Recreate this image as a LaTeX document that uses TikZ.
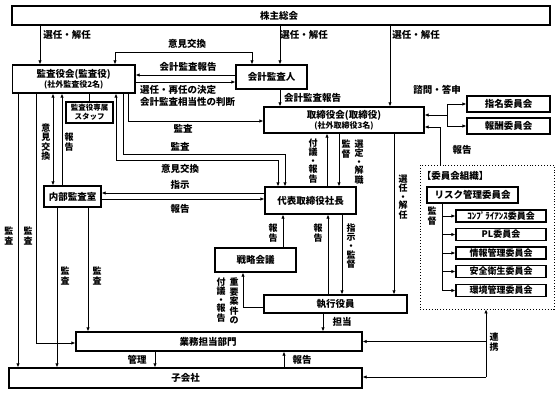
\documentclass[tikz,border=0pt]{standalone}
\usepackage{fontspec}
\setmainfont{Noto Sans CJK JP}
\usetikzlibrary{arrows.meta}
\newcommand{\smf}{\fontsize{8}{9}\selectfont}
\newcommand{\md}{\\[-1pt]・\\[-1pt]}
\tikzset{
 box/.style={draw, line width=1.3pt, inner sep=0pt, align=center, font=\bfseries\fontsize{9.5}{11}\selectfont},
 ln/.style={line width=0.8pt},
 arr/.style={ln, -{Latex[length=4pt,width=3.5pt]}},
 darr/.style={ln, {Latex[length=4pt,width=3.5pt]}-{Latex[length=4pt,width=3.5pt]}},
 lab/.style={inner sep=0pt, font=\bfseries\fontsize{9.5}{11}\selectfont},
 vlab/.style={inner sep=0pt, align=center, font=\bfseries\fontsize{9}{9.6}\selectfont},
 cbox/.style={draw, line width=1.3pt, inner sep=0pt, minimum width=90pt, minimum height=12pt, font=\bfseries\fontsize{9}{10}\selectfont},
}
\begin{document}
\begin{tikzpicture}[x=1pt,y=-1pt]
\useasboundingbox (0,0) rectangle (557,393);
\fill[white] (0,0) rectangle (557,393);
% boxes
\node[box, minimum width=538pt, minimum height=19pt] (kabu) at (281,15.5) {};
\node[lab] (kabut) at (279,15.5) {株主総会};
\node[box, minimum width=122.5pt, minimum height=28pt] (kansa) at (73.75,79) {監査役会(監査役)\\[-1pt]{\smf (社外監査役2名)}};
\node[box, minimum width=47pt, minimum height=21pt, font=\bfseries\fontsize{7.5}{9}\selectfont] (staff) at (89.5,112.5) {監査役専属\\スタッフ};
\node[box, minimum width=71pt, minimum height=24pt] (kaikei) at (271.5,77) {会計監査人};
\node[box, minimum width=160pt, minimum height=26pt] (tori) at (344,120) {取締役会(取締役)\\[-1pt]{\smf (社外取締役3名)}};
\node[box, minimum width=83pt, minimum height=16pt] (shimei) at (508.5,104) {指名委員会};
\node[box, minimum width=83pt, minimum height=16pt] (hoshu) at (508.5,126) {報酬委員会};
\node[box, minimum width=57pt, minimum height=21pt] (naibu) at (72.5,196.5) {内部監査室};
\node[box, minimum width=91pt, minimum height=27pt] (daihyo) at (310.5,200.5) {代表取締役社長};
\node[box, minimum width=81pt, minimum height=24pt] (senryaku) at (255.5,260) {戦略会議};
\node[box, minimum width=143pt, minimum height=18pt] (shikko) at (335.5,304) {執行役員};
\node[box, minimum width=286pt, minimum height=19pt] (gyomu) at (219,341.5) {};
\node[lab] (gyomut) at (208,341.5) {業務担当部門};
\node[box, minimum width=353pt, minimum height=20pt] (kogaisha) at (185.5,378) {子会社};
\node[draw, dotted, line width=0.9pt, minimum width=134pt, minimum height=144pt, inner sep=0pt] (iinkai) at (487,237) {};
\node[lab] (iinkait) at (455,176) {【委員会組織】};
\node[box, minimum width=91pt, minimum height=16pt] (risk) at (472.5,195) {リスク管理委員会};
\node[cbox] (c1) at (501,216) {ｺﾝﾌﾟﾗｲｱﾝｽ委員会};
\node[cbox] (c2) at (501,234.5) {PL委員会};
\node[cbox] (c3) at (501,253) {情報管理委員会};
\node[cbox] (c4) at (501,271.5) {安全衛生委員会};
\node[cbox] (c5) at (501,290.5) {環境管理委員会};

% shareholders
\draw[arr] (kabu.south -| 40,0) -- (kansa.north -| 40,0);
\draw[arr] (kabu.south -| 280,0) -- (kaikei.north -| 280,0);
\draw[arr] (kabu.south -| 390,0) -- (tori.north -| 390,0);
\node[lab] (l1) at (67,35) {選任・解任};
\node[lab] (l2) at (304,35) {選任・解任};
\node[lab] (l3) at (416,35) {選任・解任};

% kansa <-> kaikei
\draw[darr] (kansa.north -| 115,0) -- (115,52) -- (252,52) -- (kaikei.north -| 252,0);
\node[lab] (l4) at (187,44) {意見交換};
\draw[arr] (kaikei.west |- 0,75) -- (kansa.east |- 0,75);
\node[lab] (l5) at (188,67) {会計監査報告};
\draw[arr] (kansa.east |- 0,82) -- (kaikei.west |- 0,82);
\node[lab, anchor=west] (l6) at (140,90) {選任・再任の決定};
\node[lab, anchor=west] (l7) at (140,102) {会計監査相当性の判断};
\draw[arr] (kaikei.south -| 280,0) -- (tori.north -| 280,0);
\node[lab, anchor=west] (l8) at (284,97.5) {会計監査報告};

% kansa -> tori, daihyo
\draw[arr] (kansa.south -| 128,0) -- (128,121) -- (tori.west |- 0,121);
\node[lab] (l9) at (183,128.5) {監査};
\draw[arr] (kansa.south -| 123,0) -- (123,154) -- (285,154) -- (daihyo.north -| 285,0);
\node[lab] (l10) at (180,147) {監査};
\draw[darr] (kansa.south -| 116,0) -- (116,160) -- (278,160) -- (daihyo.north -| 278,0);
\node[lab] (l11) at (180,169) {意見交換};

% daihyo <-> naibu
\draw[arr] (daihyo.west |- 0,193) -- (naibu.east |- 0,193);
\node[lab] (l12) at (180,185) {指示};
\draw[arr] (naibu.east |- 0,199) -- (daihyo.west |- 0,199);
\node[lab] (l13) at (180,209) {報告};

% kansa <-> naibu
\draw[darr] (kansa.south -| 53,0) -- (naibu.north -| 53,0);
\node[vlab] (l14) at (46,142) {意\\見\\交\\換};
\draw[arr] (naibu.north -| 62,0) -- (kansa.south -| 62,0);
\node[vlab] (l15) at (69,142) {報\\告};
\draw[ln] (kansa.south -| 89,0) -- (staff.north -| 89,0);

% audits down
\draw[arr] (kansa.south -| 18,0) -- (kogaisha.north -| 18,0);
\node[vlab] (l16) at (9,236) {監\\査};
\draw[arr] (kansa.south -| 36,0) -- (36,343) -- (gyomu.west |- 0,343);
\node[vlab] (l17) at (28,236) {監\\査};
\draw[arr] (naibu.south -| 57,0) -- (kogaisha.north -| 57,0);
\node[vlab] (l18) at (65,276) {監\\査};
\draw[arr] (naibu.south -| 88,0) -- (gyomu.north -| 88,0);
\node[vlab] (l19) at (97,276) {監\\査};

% gyomu <-> kogaisha
\draw[arr] (gyomu.south -| 155,0) -- (kogaisha.north -| 155,0);
\node[lab] (l20) at (137,360) {管理};
\draw[arr] (kogaisha.north -| 284,0) -- (gyomu.south -| 284,0);
\node[lab] (l21) at (302,360) {報告};
\draw[arr] (shikko.south -| 323,0) -- (gyomu.north -| 323,0);
\node[lab] (l22) at (342,322) {担当};

% tori <-> daihyo
\draw[arr] (daihyo.north -| 327,0) -- (tori.south -| 327,0);
\node[vlab] (l23) at (313,161) {付\\議\md 報\\告};
\draw[arr] (tori.south -| 339,0) -- (daihyo.north -| 339,0);
\node[vlab] (l24) at (346,149) {監\\督};
\node[vlab] (l25) at (359,162) {選\\定\md 解\\職};
\draw[arr] (tori.south -| 394,0) -- (shikko.north -| 394,0);
\node[vlab] (l26) at (403,197) {選\\任\md 解\\任};

% daihyo <-> shikko, senryaku
\draw[arr] (senryaku.north -| 283,0) -- (daihyo.south -| 283,0);
\node[vlab] (l27) at (273,233) {報\\告};
\draw[arr] (shikko.west |- 0,307) -- (243,307) -- (senryaku.south -| 243,0);
\node[vlab] (l28) at (234,301) {重\\要\\案\\件\\の};
\node[vlab] (l29) at (221,300) {付\\議\md 報\\告};
\draw[arr] (shikko.north -| 328,0) -- (daihyo.south -| 328,0);
\node[vlab] (l30) at (318,233) {報\\告};
\draw[arr] (daihyo.south -| 342,0) -- (shikko.north -| 342,0);
\node[vlab] (l31) at (351,246) {指\\示\md 監\\督};

% advisory committees
\coordinate (sk) at (447,115);
\draw[arr] (sk) -- (tori.east |- sk);
\draw[arr] (sk) |- (shimei.west);
\draw[arr] (sk) |- (hoshu.west);
\node[lab] (l32) at (437,90) {諮問・答申};
\coordinate (rk) at (440,127);
\draw[arr] (iinkai.north -| rk) -- (rk) -- (tori.east |- rk);
\node[lab] (l33) at (462,150) {報告};

% risk committees
\coordinate (rv) at (442,290.5);
\draw[ln] (risk.south -| rv) -- (rv);
\foreach \c in {c1,c2,c3,c4,c5} {\draw[arr] (rv |- \c.west) -- (\c.west);}
\node[vlab] (l34) at (432,216) {監\\督};

% renkei
\coordinate (rn1) at (486,341.5);
\coordinate (rn2) at (486,377);
\draw[arr] (rn2) -- (iinkai.south -| rn2);
\draw[arr] (rn1) -- (gyomu.east |- rn1);
\draw[arr] (rn2) -- (kogaisha.east |- rn2);
\node[vlab] (l35) at (494,342) {連\\携};
\end{tikzpicture}
\end{document}
